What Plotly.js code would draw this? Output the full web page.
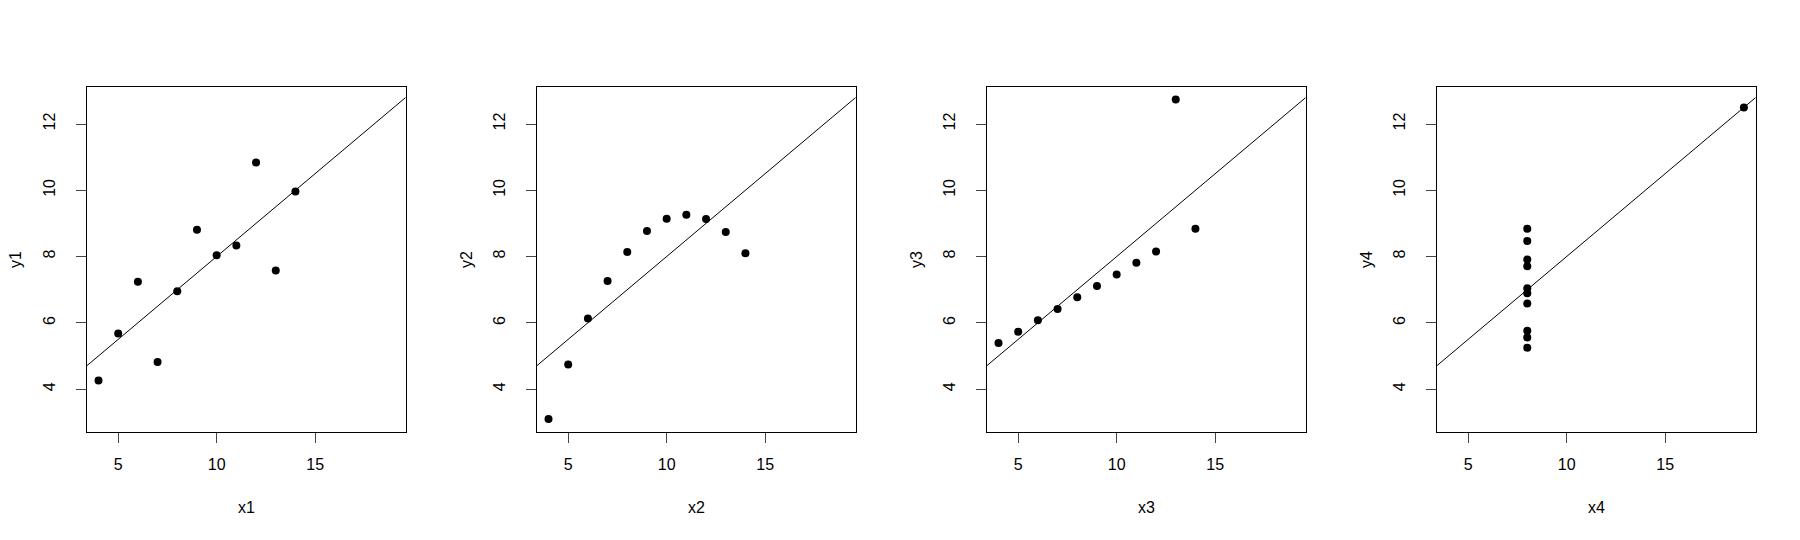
<!DOCTYPE html>
<html>
<head>
<meta charset="utf-8">
<script src="https://cdn.plot.ly/plotly-3.0.1.min.js"></script>
<style>html,body{margin:0;padding:0;background:#fff;}#chart{width:1800px;height:540px;}</style>
</head>
<body>
<div id="chart"></div>
<script>
// Anscombe's quartet
const x1 = [10, 8, 13, 9, 11, 14, 6, 4, 12, 7, 5];
const y1 = [8.04, 6.95, 7.58, 8.81, 8.33, 9.96, 7.24, 4.26, 10.84, 4.82, 5.68];
const x2 = [10, 8, 13, 9, 11, 14, 6, 4, 12, 7, 5];
const y2 = [9.14, 8.14, 8.74, 8.77, 9.26, 8.10, 6.13, 3.10, 9.13, 7.26, 4.74];
const x3 = [10, 8, 13, 9, 11, 14, 6, 4, 12, 7, 5];
const y3 = [7.46, 6.77, 12.74, 7.11, 7.81, 8.84, 6.08, 5.39, 8.15, 6.42, 5.73];
const x4 = [8, 8, 8, 8, 8, 8, 8, 19, 8, 8, 8];
const y4 = [6.58, 5.76, 7.71, 8.84, 8.47, 7.04, 5.25, 12.50, 5.56, 7.91, 6.89];
const xNames = ['x1', 'x2', 'x3', 'x4'];
const yNames = ['y1', 'y2', 'y3', 'y4'];
const xTicks = [5, 10, 15];
const yTicks = [4, 6, 8, 10, 12];

const xs = [x1, x2, x3, x4];
const ys = [y1, y2, y3, y4];

// Common limits (range of all data), expanded 4% like R
function lim(arrs) {
  const all = [].concat(...arrs);
  const lo = Math.min(...all), hi = Math.max(...all);
  const d = (hi - lo) * 0.04;
  return [lo - d, hi + d];
}
const xr = lim(xs);
const yr = lim(ys);

function fit(x, y) {
  const n = x.length;
  const mx = x.reduce((a, b) => a + b, 0) / n;
  const my = y.reduce((a, b) => a + b, 0) / n;
  let sxy = 0, sxx = 0;
  for (let i = 0; i < n; i++) { sxy += (x[i] - mx) * (y[i] - my); sxx += (x[i] - mx) ** 2; }
  const b = sxy / sxx;
  return [my - b * mx, b];
}

const W = 1800, H = 540;
const panelW = 450;
const boxL = 86.7, boxR = 405.7, boxT = 86.7, boxB = 431.7;
const FONT = 'Liberation Sans, Arial, Helvetica, sans-serif';

const traces = [];
const layout = {
  width: W, height: H,
  margin: {l: 0, r: 0, t: 0, b: 0},
  paper_bgcolor: '#fff', plot_bgcolor: '#fff',
  showlegend: false,
  font: {family: FONT, size: 16, color: '#000'},
  annotations: []
};

for (let k = 0; k < 4; k++) {
  const sfx = k === 0 ? '' : String(k + 1);
  const xa = 'x' + sfx, ya = 'y' + sfx;
  const [a, b] = fit(xs[k], ys[k]);
  traces.push({
    type: 'scatter', mode: 'markers', x: xs[k], y: ys[k], xaxis: xa, yaxis: ya,
    marker: {color: '#000', size: 8}, hoverinfo: 'skip', cliponaxis: true
  });
  traces.push({
    type: 'scatter', mode: 'lines', x: [xr[0], xr[1]], y: [a + b * xr[0], a + b * xr[1]],
    xaxis: xa, yaxis: ya, line: {color: '#000', width: 1}, hoverinfo: 'skip'
  });
  const off = k * panelW;
  layout['xaxis' + sfx] = {
    domain: [(boxL + off) / W, (boxR + off) / W], anchor: ya,
    range: xr, tickvals: xTicks, ticktext: xTicks.map(String),
    showgrid: false, zeroline: false, showline: true, mirror: true,
    linecolor: '#000', linewidth: 1, ticks: 'outside', ticklen: 10, tickwidth: 1, tickcolor: '#444',
    tickfont: {family: FONT, size: 16, color: '#000'}, ticklabelstandoff: 8, fixedrange: true
  };
  layout['yaxis' + sfx] = {
    domain: [1 - boxB / H, 1 - boxT / H], anchor: xa,
    range: yr, tickvals: yTicks, ticktext: yTicks.map(String),
    showgrid: false, zeroline: false, showline: true, mirror: true,
    linecolor: '#000', linewidth: 1, ticks: 'outside', ticklen: 10, tickwidth: 1, tickcolor: '#444',
    tickangle: -90, tickfont: {family: FONT, size: 16, color: '#000'}, ticklabelstandoff: 14, fixedrange: true
  };
  layout.annotations.push({
    text: xNames[k], xref: xa + ' domain', yref: ya + ' domain', x: 0.5, y: 0,
    yshift: -76, xanchor: 'center', yanchor: 'middle', showarrow: false,
    font: {family: FONT, size: 16, color: '#000'}
  });
  layout.annotations.push({
    text: yNames[k], xref: xa + ' domain', yref: ya + ' domain', x: 0, y: 0.5,
    xshift: -71, xanchor: 'center', yanchor: 'middle', textangle: -90, showarrow: false,
    font: {family: FONT, size: 16, color: '#000'}
  });
}

Plotly.newPlot('chart', traces, layout, {displayModeBar: false, staticPlot: true});
</script>
</body>
</html>
